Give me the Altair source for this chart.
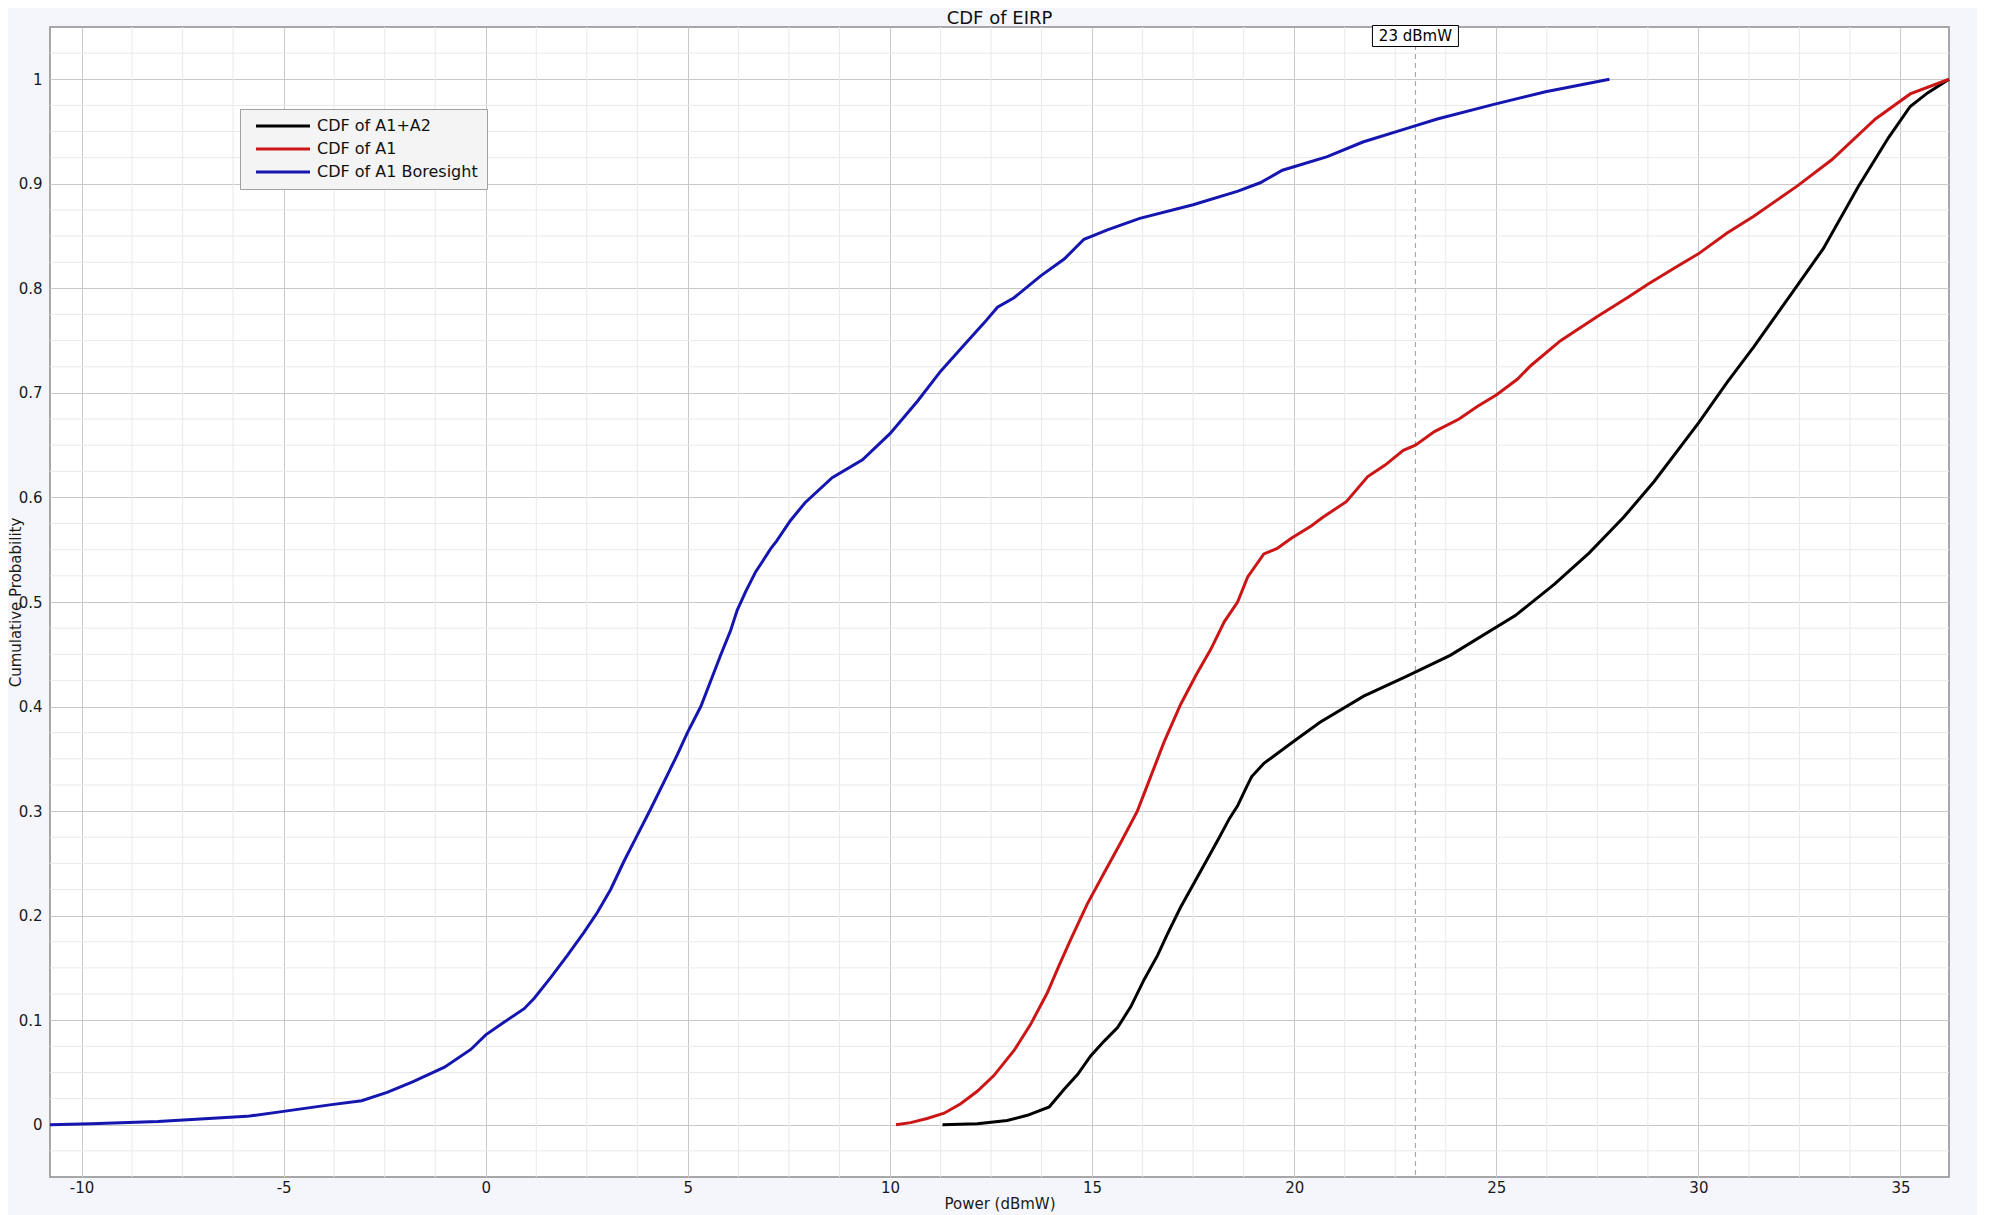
import json
import altair as alt
import pandas as pd

# ---------------- data ----------------
series_names = ["CDF of A1+A2", "CDF of A1", "CDF of A1 Boresight"]
series_colors = ["#000000", "#cc1616", "#1515b0"]

black_x = [11.3, 12.16, 12.9, 13.4, 13.94, 14.31, 14.64, 14.97, 15.3, 15.63, 15.96, 16.29,
           16.62, 16.86, 17.19, 17.52, 17.85, 18.15, 18.4, 18.6, 18.82, 18.95, 19.26, 20.0,
           20.64, 21.72, 22.79, 23.86, 25.47, 26.44, 27.3, 28.15, 28.9, 30.0, 30.71, 31.37,
           32.23, 33.09, 33.95, 34.7, 35.24, 35.67, 36.2]
black_p = [0.0, 0.001, 0.004, 0.009, 0.017, 0.034, 0.048, 0.066, 0.080, 0.093, 0.113, 0.139,
           0.162, 0.182, 0.208, 0.231, 0.254, 0.275, 0.293, 0.305, 0.323, 0.333, 0.346, 0.367,
           0.385, 0.410, 0.429, 0.449, 0.487, 0.517, 0.547, 0.581, 0.615, 0.671, 0.710, 0.744,
           0.791, 0.838, 0.897, 0.944, 0.974, 0.987, 1.0]

red_x = [10.15, 10.51, 10.92, 11.34, 11.75, 12.16, 12.57, 13.07, 13.48, 13.89, 14.18, 14.47,
         14.88, 15.3, 15.71, 16.12, 16.45, 16.78, 17.19, 17.57, 17.94, 18.27, 18.6, 18.85,
         19.25, 19.57, 19.93, 20.43, 20.71, 21.29, 21.82, 22.25, 22.7, 23.0, 23.47, 24.08,
         24.53, 25.0, 25.52, 25.85, 26.59, 27.5, 28.24, 28.75, 29.47, 30.0, 30.71, 31.37,
         32.45, 33.3, 34.38, 35.24, 36.2]
red_p = [0.0, 0.002, 0.006, 0.011, 0.020, 0.032, 0.047, 0.071, 0.096, 0.126, 0.152, 0.177,
         0.211, 0.241, 0.270, 0.300, 0.333, 0.366, 0.402, 0.430, 0.455, 0.481, 0.500, 0.524,
         0.546, 0.551, 0.561, 0.573, 0.581, 0.596, 0.620, 0.631, 0.645, 0.650, 0.663, 0.675,
         0.687, 0.698, 0.713, 0.726, 0.750, 0.773, 0.791, 0.804, 0.821, 0.833, 0.853, 0.869,
         0.898, 0.923, 0.962, 0.986, 1.0]

blue_x = [-10.78, -9.76, -8.11, -6.85, -5.91, -4.96, -3.86, -3.07, -2.44, -1.81, -1.02, -0.37,
          0.0, 0.45, 0.95, 1.2, 1.61, 2.02, 2.43, 2.76, 3.09, 3.42, 3.75, 4.08, 4.41, 4.74,
          4.99, 5.32, 5.56, 5.81, 6.06, 6.22, 6.43, 6.68, 6.85, 7.05, 7.19, 7.54, 7.9, 8.57,
          9.32, 10.0, 10.68, 11.26, 11.84, 12.33, 12.66, 13.07, 13.73, 14.31, 14.8, 15.0,
          15.38, 16.18, 17.5, 18.61, 19.16, 19.71, 20.82, 21.7, 22.79, 23.54, 24.94, 26.22,
          27.8]
blue_p = [0.0, 0.001, 0.003, 0.006, 0.008, 0.013, 0.019, 0.023, 0.031, 0.041, 0.055, 0.072,
          0.086, 0.098, 0.111, 0.121, 0.141, 0.162, 0.184, 0.203, 0.225, 0.252, 0.277, 0.302,
          0.328, 0.354, 0.375, 0.400, 0.424, 0.449, 0.473, 0.492, 0.510, 0.529, 0.539, 0.551,
          0.558, 0.578, 0.595, 0.619, 0.636, 0.661, 0.692, 0.721, 0.746, 0.767, 0.782, 0.791,
          0.812, 0.828, 0.847, 0.850, 0.856, 0.867, 0.880, 0.893, 0.901, 0.913, 0.926, 0.940,
          0.953, 0.962, 0.976, 0.988, 1.0]

x_tick_values = [-10, -5, 0, 5, 10, 15, 20, 25, 30, 35]
x_tick_labels = ["-10", "-5", "0", "5", "10", "15", "20", "25", "30", "35"]
y_tick_values = [0, 0.1, 0.2, 0.3, 0.4, 0.5, 0.6, 0.7, 0.8, 0.9, 1]
y_tick_labels = ["0", "0.1", "0.2", "0.3", "0.4", "0.5", "0.6", "0.7", "0.8", "0.9", "1"]

x_domain = [-10.78, 36.2]
y_domain = [-0.05, 1.05]
x_minor_step = 1.25
y_minor_step = 0.025

marker_x = [23]
marker_label = "23 dBmW"

# ---------------- tables ----------------
rows = []
for name, xs, ps in [(series_names[0], black_x, black_p),
                     (series_names[1], red_x, red_p),
                     (series_names[2], blue_x, blue_p)]:
    for x, p in zip(xs, ps):
        rows.append({"series": name, "power": x, "prob": p})
df = pd.DataFrame(rows)

minor_x = [round(-15 + i * x_minor_step, 4) for i in range(60)]
minor_x = [v for v in minor_x if x_domain[0] < v < x_domain[1] and abs(v / 5 - round(v / 5)) > 1e-6]
minor_y = [round(-0.05 + i * y_minor_step, 4) for i in range(60)]
minor_y = [v for v in minor_y if y_domain[0] < v < y_domain[1] and abs(v / 0.1 - round(v / 0.1)) > 1e-6]

minor_x_df = pd.DataFrame({"power": minor_x})
minor_y_df = pd.DataFrame({"prob": minor_y})
marker_df = pd.DataFrame({"power": marker_x, "label": [marker_label]})


def label_expr(values, labels):
    return f"{json.dumps(labels)}[indexof({json.dumps(values)}, datum.value)]"


FONT = "DejaVu Sans"
NBSP = "\u00a0" * 7
x_scale = alt.Scale(domain=x_domain, nice=False, zero=False)
y_scale = alt.Scale(domain=y_domain, nice=False, zero=False)

x_axis = alt.Axis(
    values=x_tick_values,
    labelExpr=label_expr(x_tick_values, x_tick_labels),
    title="Power (dBmW)",
    grid=True,
    gridColor="#c8c8c8",
    gridWidth=1,
    domain=False,
    ticks=False,
    labelPadding=3,
    labelFontSize=15,
    labelColor="#1a1a1a",
    labelFont=FONT,
    titleFont=FONT,
    titleFontSize=15,
    titleFontWeight="normal",
    titleColor="#1a1a1a",
    titlePadding=1,
)
y_axis = alt.Axis(
    values=y_tick_values,
    labelExpr=label_expr(y_tick_values, y_tick_labels),
    title="Cumulative Probability",
    grid=True,
    gridColor="#c8c8c8",
    gridWidth=1,
    domain=False,
    ticks=False,
    labelPadding=8,
    labelFontSize=15,
    labelColor="#1a1a1a",
    labelFont=FONT,
    titleFont=FONT,
    titleFontSize=15,
    titleFontWeight="normal",
    titleColor="#1a1a1a",
    titlePadding=-5,
)

X = alt.X("power:Q", scale=x_scale, axis=x_axis)
Y = alt.Y("prob:Q", scale=y_scale, axis=y_axis)

minor_x_layer = alt.Chart(minor_x_df).mark_rule(color="#e9e9e9", strokeWidth=1).encode(x=X)
minor_y_layer = alt.Chart(minor_y_df).mark_rule(color="#e9e9e9", strokeWidth=1).encode(y=Y)

marker_rule = alt.Chart(marker_df).mark_rule(
    color="#a8a8a8", strokeWidth=1.2, strokeDash=[5, 4]
).encode(x=X)

lines = alt.Chart(df).mark_line(strokeWidth=3).encode(
    x=X,
    y=Y,
    color=alt.Color(
        "series:N",
        scale=alt.Scale(domain=series_names, range=series_colors),
        legend=alt.Legend(
            title=None,
            orient="none",
            legendX=190,
            legendY=82,
            fillColor="#f4f4f4",
            strokeColor="#a0a0a0",
            padding=9,
            symbolType="M-5.4,0L5.4,0",
            symbolSize=100,
            symbolStrokeWidth=3,
            symbolOffset=26,
            labelFontSize=16,
            labelFont=FONT,
            labelColor="#111111",
            labelOffset=26,
            labelExpr=f"datum.label + '{NBSP}'",
            rowPadding=7,
            labelLimit=400,
        ),
    ),
)

marker_box = alt.Chart(marker_df).mark_rect(
    width=86, height=21, fill="white", stroke="black", strokeWidth=1
).encode(x=X, y=alt.value(9))

marker_text = alt.Chart(marker_df).mark_text(
    fontSize=15, font=FONT, color="black", baseline="middle", align="center"
).encode(x=X, y=alt.value(9), text="label:N")

chart = alt.layer(
    minor_x_layer, minor_y_layer, marker_rule, lines, marker_box, marker_text
).properties(
    width=1899,
    height=1150,
    title=alt.TitleParams(
        "CDF of EIRP", fontSize=18, font=FONT, fontWeight="normal",
        color="#111111", offset=0, dy=3, anchor="middle"
    ),
    autosize=alt.AutoSizeParams(type="none"),
    padding={"left": 42, "top": 19, "right": 28, "bottom": 38},
).configure(
    background="#f5f6fb", font=FONT
).configure_view(
    fill="white", stroke="#8c8c8c", strokeWidth=1.5
)

chart.save("out.html", embed_options={"renderer": "svg", "actions": False})
